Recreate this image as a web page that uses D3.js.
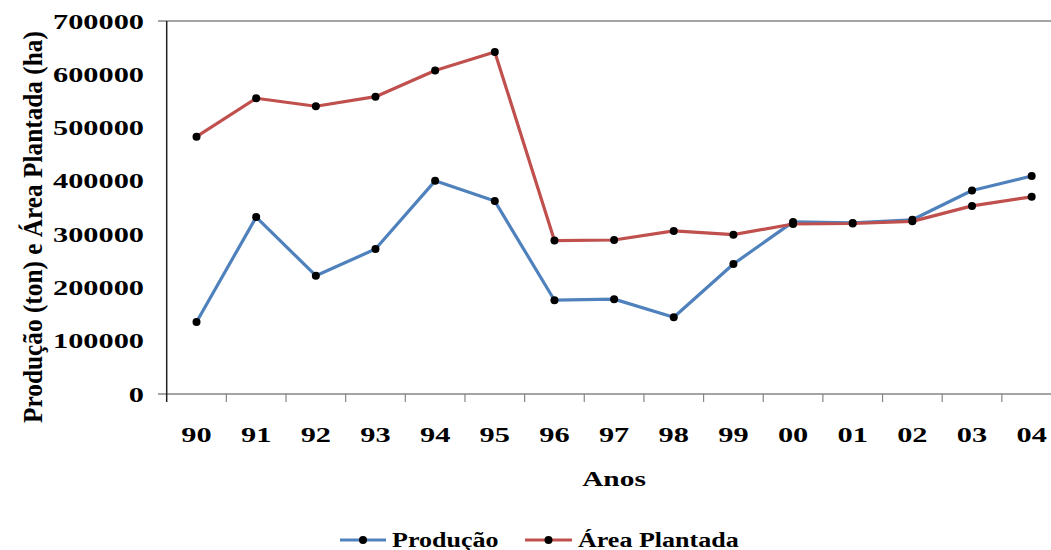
<!DOCTYPE html>
<html><head><meta charset="utf-8">
<script src="https://cdn.jsdelivr.net/npm/d3@7"></script>
<style>body{margin:0;background:#fff}svg{display:block}</style>
</head><body><svg id="c" width="1051" height="550" font-family="'Liberation Serif', Tinos, 'Times New Roman', serif" font-weight="bold"></svg>
<script>
const years = ["90","91","92","93","94","95","96","97","98","99","00","01","02","03","04"];
const producao = [135000,332000,222000,272000,400000,362000,176000,178000,144000,244000,323000,321000,327000,382000,409000];
const area = [483000,555000,540000,558000,607000,642000,288000,289000,306000,299000,319000,320000,324000,353000,370000];
const yTicks = [0,100000,200000,300000,400000,500000,600000,700000];
const seriesNames = ["Produção","Área Plantada"];
const colors = ["#4F81BD","#C0504D"];

const svg = d3.select("#c");
const L = 166.7, R = 1061.5, T = 21, B = 394;
const x = d3.scaleBand().domain(years).range([L, R]).padding(0);
const y = d3.scaleLinear().domain([0,700000]).range([B, T]);
const cx = d => x(d) + x.bandwidth()/2;
const SX = 1.38;

svg.append("line").attr("x1",158).attr("x2",1051).attr("y1",y(700000)).attr("y2",y(700000)).attr("stroke","#868686").attr("stroke-width",1.5);
svg.append("line").attr("x1",158).attr("x2",1051).attr("y1",y(0)).attr("y2",y(0)).attr("stroke","#868686").attr("stroke-width",1.5);
years.forEach((d,i)=>{ if(i>0) svg.append("line").attr("x1",x(d)).attr("x2",x(d)).attr("y1",y(0)).attr("y2",y(0)+8).attr("stroke","#868686").attr("stroke-width",1.2); });
svg.append("line").attr("x1",L).attr("x2",L).attr("y1",T).attr("y2",B+8).attr("stroke","#222").attr("stroke-width",1.5);

svg.append("g").selectAll("text").data(yTicks).join("text")
  .attr("transform", d=>`translate(144,${y(d)+7.5}) scale(${SX},1)`)
  .attr("text-anchor","end").attr("font-size",22).text(d=>d);
svg.append("g").selectAll("text").data(years).join("text")
  .attr("transform", d=>`translate(${cx(d)},442) scale(${SX},1)`)
  .attr("text-anchor","middle").attr("font-size",22).text(d=>d);

svg.append("text").attr("transform","translate(614,486) scale(1.4,1)").attr("text-anchor","middle").attr("font-size",21).text("Anos");
svg.append("text").attr("transform","translate(42,227) rotate(-90) scale(1.1,1.2)").attr("text-anchor","middle").attr("font-size",23).text("Produção (ton) e Área Plantada (ha)");

const line = d3.line().x((d,i)=>cx(years[i])).y(d=>y(d));
[producao, area].forEach((s,k)=>{
  svg.append("path").attr("d", line(s)).attr("fill","none").attr("stroke",colors[k]).attr("stroke-width",3.2).attr("stroke-linejoin","round");
  svg.append("g").selectAll("circle").data(s).join("circle")
    .attr("cx",(d,i)=>cx(years[i])).attr("cy",d=>y(d)).attr("r",4).attr("fill","#000");
});

const leg = [{x1:340,x2:386,t:392},{x1:525,x2:572,t:578}];
leg.forEach((p,k)=>{
  svg.append("line").attr("x1",p.x1).attr("x2",p.x2).attr("y1",540).attr("y2",540).attr("stroke",colors[k]).attr("stroke-width",3.2);
  svg.append("circle").attr("cx",(p.x1+p.x2)/2).attr("cy",540).attr("r",4).attr("fill","#000");
  svg.append("text").attr("transform",`translate(${p.t},547) scale(1.24,1)`).attr("font-size",21).text(seriesNames[k]);
});
</script></body></html>
